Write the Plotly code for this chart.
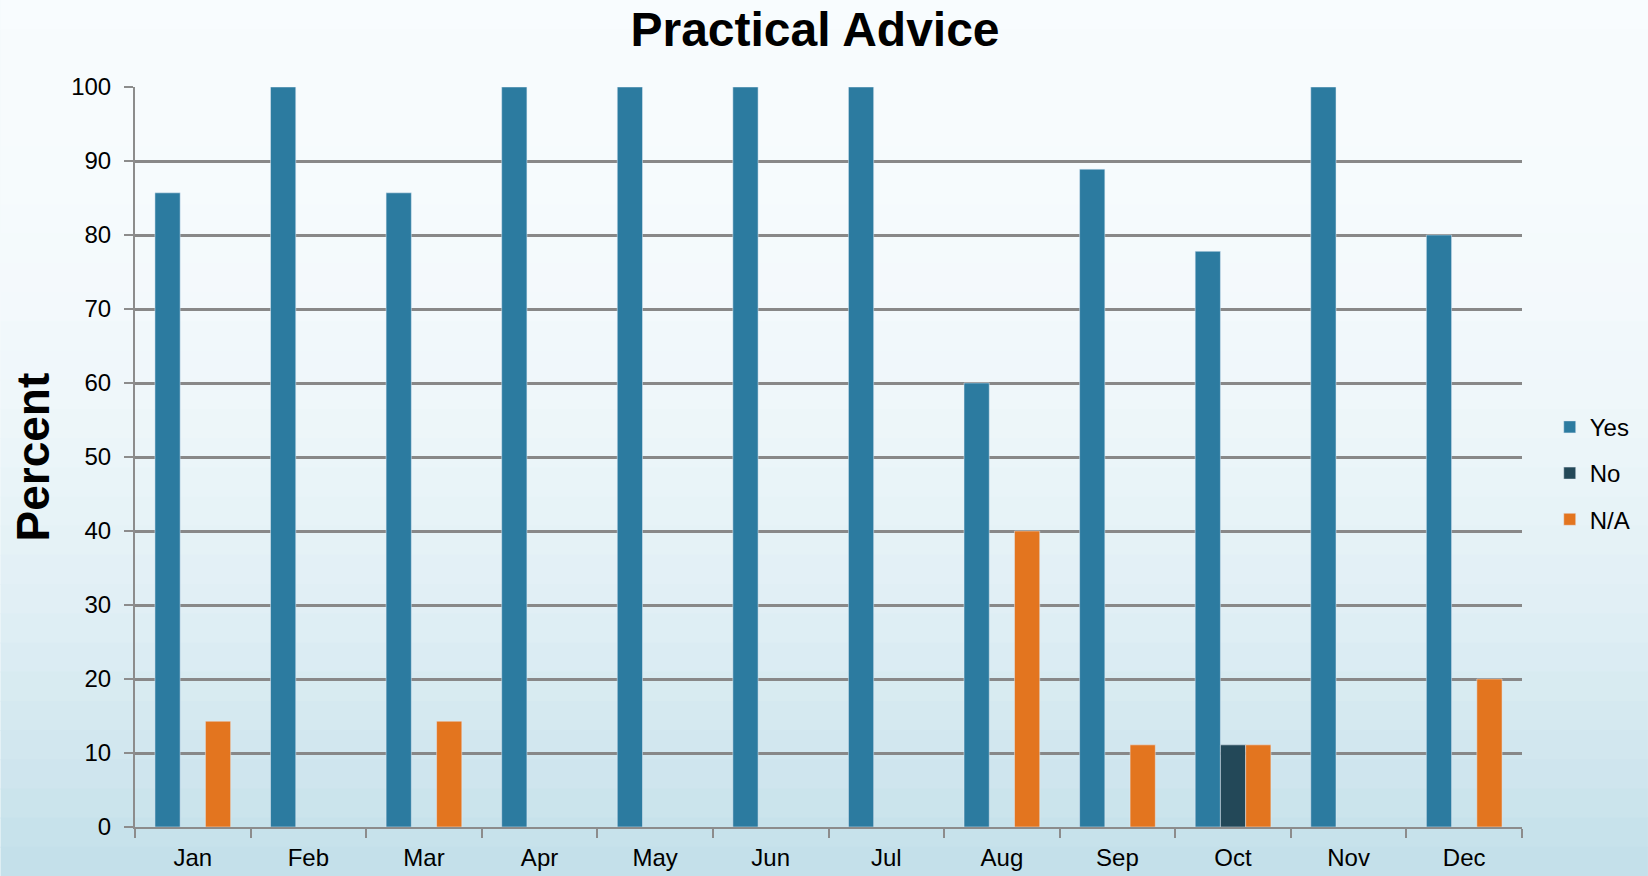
import plotly.graph_objects as go

months = ["Jan", "Feb", "Mar", "Apr", "May", "Jun", "Jul", "Aug", "Sep", "Oct", "Nov", "Dec"]
yes_vals = [85.7, 100, 85.7, 100, 100, 100, 100, 60, 88.9, 77.8, 100, 80]
no_vals = [None, None, None, None, None, None, None, None, None, 11.1, None, None]
na_vals = [14.3, None, 14.3, None, None, None, None, 40, 11.1, 11.1, None, 20]
y_ticks = [0, 10, 20, 30, 40, 50, 60, 70, 80, 90, 100]

fig = go.Figure()
fig.add_trace(go.Bar(x=months, y=yes_vals, name="Yes", marker_color="#2C7BA0", legendgroup="a"))
fig.add_trace(go.Bar(x=months, y=no_vals, name="No", marker_color="#234858", legendgroup="b"))
fig.add_trace(go.Bar(x=months, y=na_vals, name="N/A", marker_color="#E3751F", legendgroup="c"))

# background stepped gradient (paper coords extending to full canvas)
W, H = 1648, 876
l, r, t, b = 134.5, 126, 87, 49
pw, ph = W - l - r, H - t - b
shapes = []
n = 30
top_c = (248, 252, 254)
bot_c = (196, 224, 234)
for i in range(n):
    y0px = i * H / n
    y1px = (i + 1) * H / n
    f = (i / (n - 1)) ** 2.2
    c = tuple(int(top_c[k] + (bot_c[k] - top_c[k]) * f) for k in range(3))
    shapes.append(dict(type="rect", xref="paper", yref="paper", layer="below",
                       x0=-l / pw, x1=(W - l) / pw,
                       y0=(H - b - y1px - 1) / ph, y1=(H - b - y0px) / ph,
                       line_width=0, fillcolor="rgb(%d,%d,%d)" % c))

fig.update_layout(
    width=W, height=H,
    margin=dict(l=l, r=r, t=t, b=b, pad=0, autoexpand=False),
    paper_bgcolor="#f4f9fc",
    plot_bgcolor="rgba(0,0,0,0)",
    barmode="group", bargap=0.345, bargroupgap=0,
    font=dict(family="Liberation Sans, Arial", color="#000000", size=24),
    title=dict(text="<b>Practical Advice</b>", x=815 / W, xref="container", xanchor="center",
               y=1 - 29 / H, yref="container", yanchor="middle",
               font=dict(size=48, family="Liberation Sans, Arial")),
    legend=dict(x=1.02, xanchor="left", y=0.478, yanchor="middle",
                font=dict(size=24), tracegroupgap=12, bgcolor="rgba(0,0,0,0)",
                itemwidth=30),
    shapes=shapes,
    showlegend=True,
)
fig.update_xaxes(showline=True, linecolor="#8c8c8c", linewidth=2, automargin=False,
                 ticks="outside", tickson="boundaries", ticklen=9, tickcolor="#8c8c8c", tickwidth=2,
                 showgrid=False, tickfont=dict(size=24), ticklabelstandoff=8)
fig.update_yaxes(range=[0, 100], tickvals=y_ticks, showline=True, linecolor="#8c8c8c", linewidth=2,
                 automargin=False,
                 ticks="outside", ticklen=9, tickcolor="#8c8c8c", tickwidth=2,
                 showgrid=True, gridcolor="#888888", gridwidth=2.5, zeroline=False,
                 tickfont=dict(size=24), ticklabelstandoff=8)
fig.add_annotation(text="<b>Percent</b>", textangle=-90, xref="paper", yref="paper",
                   x=(32 - l) / pw, y=0.5, xanchor="center", yanchor="middle", showarrow=False,
                   font=dict(size=46, family="Liberation Sans, Arial"))
fig.write_html("out.html")
